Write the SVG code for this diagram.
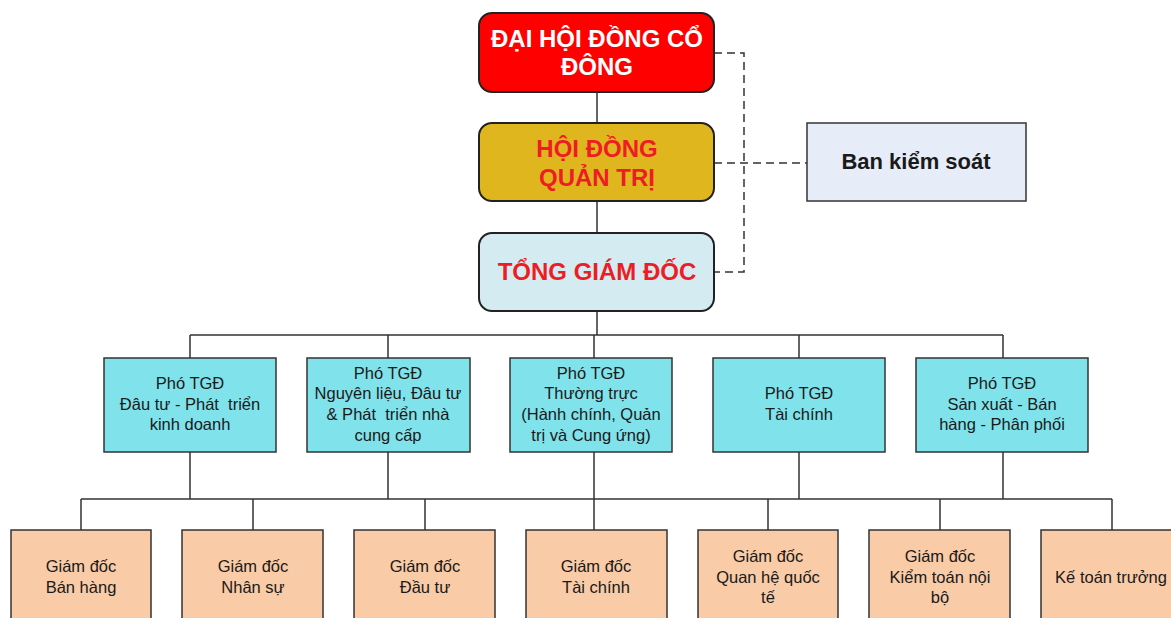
<svg xmlns="http://www.w3.org/2000/svg" width="1171" height="618" viewBox="0 0 1171 618">
<style>
.top{stroke:#222;stroke-width:2}
.t{font-family:"Liberation Sans",Arial,sans-serif;text-anchor:middle}
.big{font-size:24px;font-weight:bold}
.red{fill:#ee1c24}
.pho{fill:#80e2ea;stroke:#333;stroke-width:1.5}
.gd{fill:#f9cba6;stroke:#333;stroke-width:1.5}
.s{font-size:16.5px;fill:#1a1a1a}
.ln{stroke:#333;stroke-width:1.5;fill:none}
.dash{stroke:#333;stroke-width:1.5;fill:none;stroke-dasharray:8 5}
</style>
<rect width="1171" height="618" fill="#fff"/>
<g id="connectors">
<path class="ln" d="M597 92V123M597 201V233M597 311V335M190 335H1003M190 335V358M388 335V358M594 335V358M799 335V358M1003 335V358"/>
<path class="ln" d="M190 452V499M388 452V499M594 452V530M799 452V499M1003 452V499M81 499H1112M81 499V530M253 499V530M425 499V530M768 499V530M940 499V530M1112 499V530"/>
<path class="dash" d="M714 53H744V272H714M714 163H807"/>
</g>
<g id="dhdcd">
<rect class="top" x="479" y="13" width="235" height="79" rx="13" fill="#ff0000"/>
<text class="t big" fill="#fff" x="597" y="47">ĐẠI HỘI ĐỒNG CỔ</text>
<text class="t big" fill="#fff" x="597" y="75">ĐÔNG</text>
</g>
<g id="hdqt">
<rect class="top" x="479" y="123" width="235" height="78" rx="13" fill="#e0b61e"/>
<text class="t big red" x="597" y="157">HỘI ĐỒNG</text>
<text class="t big red" x="597" y="186">QUẢN TRỊ</text>
</g>
<g id="tgd">
<rect class="top" x="479" y="233" width="235" height="78" rx="13" fill="#d3ebf1"/>
<text class="t big red" x="597" y="280">TỔNG GIÁM ĐỐC</text>
</g>
<g id="bks">
<rect x="807" y="123" width="219" height="78" fill="#e6edf8" stroke="#333" stroke-width="1.5"/>
<text class="t" x="916" y="169" font-size="22" font-weight="bold" fill="#1a1a1a">Ban kiểm soát</text>
</g>
<g id="pho1">
<rect class="pho" x="104" y="358" width="172" height="94"/>
<text class="t s" x="190" y="389">Phó TGĐ</text>
<text class="t s" x="190" y="410" xml:space="preserve">Đâu tư - Phát  triển</text>
<text class="t s" x="190" y="430">kinh doanh</text>
</g>
<g id="pho2">
<rect class="pho" x="307" y="358" width="163" height="94"/>
<text class="t s" x="388" y="379">Phó TGĐ</text>
<text class="t s" x="388" y="399">Nguyên liệu, Đâu tư</text>
<text class="t s" x="388" y="420" xml:space="preserve">&amp; Phát  triển nhà</text>
<text class="t s" x="388" y="441">cung cấp</text>
</g>
<g id="pho3">
<rect class="pho" x="510" y="358" width="162" height="94"/>
<text class="t s" x="591" y="379">Phó TGĐ</text>
<text class="t s" x="591" y="399">Thường trực</text>
<text class="t s" x="591" y="420">(Hành chính, Quản</text>
<text class="t s" x="591" y="441">trị và Cung ứng)</text>
</g>
<g id="pho4">
<rect class="pho" x="713" y="358" width="172" height="94"/>
<text class="t s" x="799" y="399">Phó TGĐ</text>
<text class="t s" x="799" y="420">Tài chính</text>
</g>
<g id="pho5">
<rect class="pho" x="916" y="358" width="172" height="94"/>
<text class="t s" x="1002" y="389">Phó TGĐ</text>
<text class="t s" x="1002" y="410">Sản xuất - Bán</text>
<text class="t s" x="1002" y="430">hàng - Phân phối</text>
</g>
<g id="gd1">
<rect class="gd" x="11" y="530" width="140" height="95"/>
<text class="t s" x="81" y="572">Giám đốc</text>
<text class="t s" x="81" y="593">Bán hàng</text>
</g>
<g id="gd2">
<rect class="gd" x="182" y="530" width="141" height="95"/>
<text class="t s" x="253" y="572">Giám đốc</text>
<text class="t s" x="253" y="593">Nhân sự</text>
</g>
<g id="gd3">
<rect class="gd" x="354" y="530" width="141" height="95"/>
<text class="t s" x="425" y="572">Giám đốc</text>
<text class="t s" x="425" y="593">Đầu tư</text>
</g>
<g id="gd4">
<rect class="gd" x="526" y="530" width="141" height="95"/>
<text class="t s" x="596" y="572">Giám đốc</text>
<text class="t s" x="596" y="593">Tài chính</text>
</g>
<g id="gd5">
<rect class="gd" x="698" y="530" width="140" height="95"/>
<text class="t s" x="768" y="562">Giám đốc</text>
<text class="t s" x="768" y="583">Quan hệ quốc</text>
<text class="t s" x="768" y="603">tế</text>
</g>
<g id="gd6">
<rect class="gd" x="869" y="530" width="141" height="95"/>
<text class="t s" x="940" y="562">Giám đốc</text>
<text class="t s" x="940" y="583">Kiểm toán nội</text>
<text class="t s" x="940" y="603">bộ</text>
</g>
<g id="gd7">
<rect class="gd" x="1041" y="530" width="141" height="95"/>
<text class="t s" x="1111" y="583">Kế toán trưởng</text>
</g>
</svg>
